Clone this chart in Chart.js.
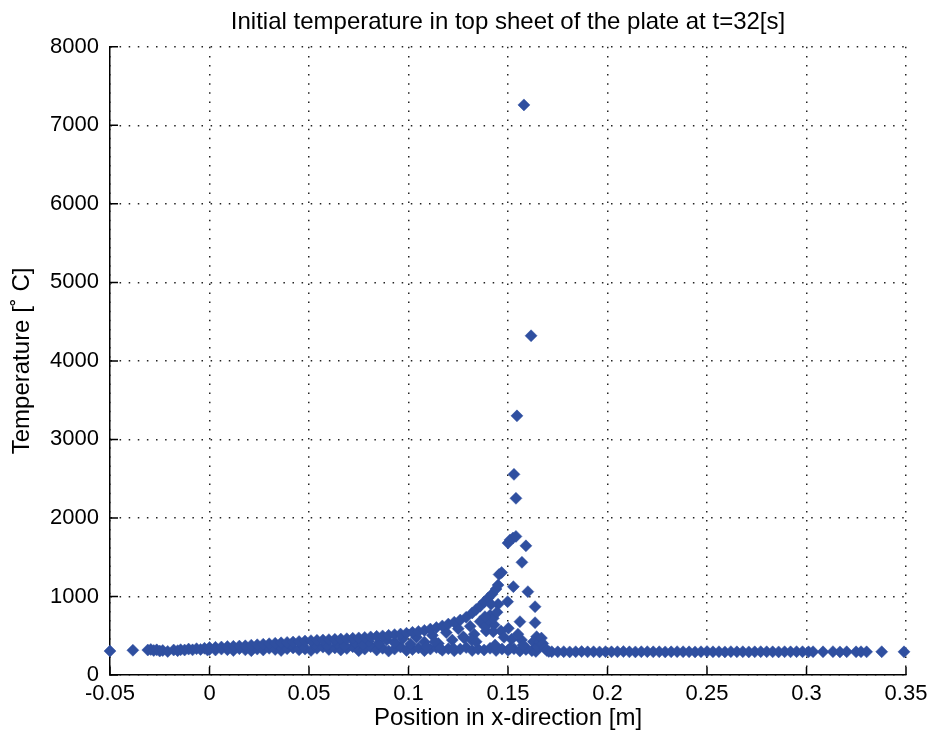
<!DOCTYPE html>
<html>
<head>
<meta charset="utf-8">
<script src="https://cdn.jsdelivr.net/npm/chart.js@4.4.1/dist/chart.umd.min.js"></script>
<style>
  body { margin: 0; background: #fff; }
  #wrap { width: 934px; height: 742px; position: relative; }
</style>
</head>
<body>
<div id="wrap"><canvas id="tempChart"></canvas></div>
<script>
// axis labels
const xTickLabels = ['-0.05', '0', '0.05', '0.1', '0.15', '0.2', '0.25', '0.3', '0.35'];
const yTickLabels = ['0', '1000', '2000', '3000', '4000', '5000', '6000', '7000', '8000'];

// sparse points left of x=0
const startX = [-0.05, -0.0385, -0.031, -0.0295, -0.028, -0.0265, -0.025, -0.0235, -0.021, -0.018, -0.016, -0.0145, -0.0125, -0.0105, -0.0085, -0.0065, -0.0045, -0.0025, -0.001];
const startY = [305, 315, 318, 325, 312, 320, 305, 312, 300, 318, 310, 322, 318, 330, 320, 335, 325, 340, 318];

// upper edge of the rising band
const upperX = [0.000, 0.003, 0.006, 0.009, 0.012, 0.015, 0.018, 0.021, 0.024, 0.027, 0.030, 0.033, 0.036, 0.039, 0.042, 0.045, 0.048, 0.051, 0.054, 0.057, 0.060, 0.063, 0.066, 0.069, 0.072, 0.075, 0.078, 0.081, 0.084, 0.087, 0.090, 0.093, 0.096, 0.099, 0.102, 0.105, 0.108, 0.111, 0.114, 0.117, 0.120, 0.123, 0.126, 0.129, 0.132, 0.134, 0.136, 0.138, 0.140, 0.142, 0.144, 0.145];
const upperY = [350, 352, 356, 362, 365, 368, 372, 380, 385, 392, 398, 404, 410, 415, 420, 426, 432, 437, 441, 446, 450, 454, 458, 462, 467, 472, 478, 485, 492, 498, 505, 514, 522, 532, 543, 555, 568, 585, 604, 625, 648, 672, 700, 735, 790, 835, 875, 930, 980, 1030, 1095, 1145];

// lower edge of the band
const lowerX = [0.000, 0.003, 0.006, 0.009, 0.012, 0.015, 0.018, 0.021, 0.024, 0.027, 0.030, 0.033, 0.036, 0.039, 0.042, 0.045, 0.048, 0.051, 0.054, 0.057, 0.060, 0.063, 0.066, 0.069, 0.072, 0.075, 0.078, 0.081, 0.084, 0.087, 0.090, 0.093, 0.096, 0.099, 0.102, 0.105, 0.108, 0.111, 0.114, 0.117, 0.120, 0.123, 0.126, 0.129, 0.132, 0.135, 0.138, 0.141, 0.144, 0.147, 0.150, 0.153, 0.156, 0.159, 0.162];
const lowerY = [325, 318, 330, 322, 312, 335, 320, 310, 330, 318, 340, 325, 312, 335, 345, 320, 330, 312, 340, 355, 325, 345, 318, 338, 360, 310, 330, 360, 318, 340, 305, 330, 355, 312, 325, 345, 310, 330, 350, 315, 335, 308, 330, 350, 312, 330, 318, 340, 312, 330, 315, 335, 305, 325, 310];

// points between the edges
const midX = [0.035, 0.041, 0.047, 0.053, 0.059, 0.064, 0.068, 0.073, 0.077, 0.080, 0.085, 0.089, 0.093, 0.097, 0.101, 0.104, 0.108, 0.112, 0.115, 0.119, 0.122, 0.125, 0.128, 0.131, 0.133, 0.136, 0.139, 0.141, 0.143, 0.145];
const midY = [372, 385, 368, 395, 380, 405, 372, 415, 390, 430, 400, 445, 410, 460, 395, 480, 420, 505, 400, 540, 445, 590, 470, 620, 520, 680, 560, 760, 640, 900];

// scattered points under the peak
const scatX = [0.1275, 0.1317, 0.1225, 0.1340, 0.1435, 0.1385, 0.1400, 0.1426, 0.1426, 0.1384, 0.1498, 0.1502, 0.1510, 0.1518, 0.1527, 0.1560, 0.1568, 0.1593, 0.1600, 0.1636, 0.1636, 0.1644, 0.1627, 0.1652, 0.1133, 0.1090, 0.1158, 0.1465, 0.1480, 0.1445, 0.1415, 0.1550, 0.1575];
const scatY = [488, 446, 340, 424, 382, 615, 700, 552, 722, 743, 934, 595, 340, 455, 1125, 679, 446, 340, 1061, 870, 666, 488, 424, 382, 424, 361, 340, 560, 480, 800, 900, 520, 380];

// the spike
const peakX = [0.1580, 0.1616, 0.1545, 0.1530, 0.1540, 0.1500, 0.1510, 0.1525, 0.1540, 0.1590, 0.1570, 0.1468, 0.1455];
const peakY = [7260, 4320, 3300, 2555, 2250, 1680, 1720, 1745, 1765, 1645, 1435, 1305, 1280];

// flat part right of the spike
const flatX = [0.1640, 0.1650, 0.1660, 0.1668, 0.1675, 0.1685, 0.1695, 0.1705, 0.172, 0.175, 0.178, 0.181, 0.184, 0.187, 0.190, 0.193, 0.196, 0.199, 0.202, 0.205, 0.208, 0.211, 0.214, 0.217, 0.220, 0.223, 0.226, 0.229, 0.232, 0.235, 0.238, 0.241, 0.244, 0.247, 0.250, 0.253, 0.256, 0.259, 0.262, 0.265, 0.268, 0.271, 0.274, 0.277, 0.280, 0.283, 0.286, 0.289, 0.292, 0.295, 0.298, 0.301, 0.3033, 0.3083, 0.3133, 0.3168, 0.3202, 0.3249, 0.3274, 0.3302, 0.3378, 0.3490];
const flatY = [300, 357, 420, 470, 400, 340, 312, 300, 296, 295, 297, 294, 296, 298, 295, 296, 294, 297, 295, 296, 298, 295, 294, 296, 297, 295, 296, 294, 295, 297, 296, 295, 294, 296, 298, 295, 296, 294, 297, 295, 296, 294, 295, 297, 296, 295, 294, 296, 295, 297, 296, 295, 296, 295, 297, 294, 296, 295, 296, 295, 296, 295];

function toPoints(xs, ys) {
  return xs.map((x, i) => ({ x: x, y: ys[i] }));
}

const allPoints = [].concat(
  toPoints(startX, startY),
  toPoints(lowerX, lowerY),
  toPoints(midX, midY),
  toPoints(upperX, upperY),
  toPoints(scatX, scatY),
  toPoints(peakX, peakY),
  toPoints(flatX, flatY)
);

// matlab style ticks pointing into the plot
const inwardTicks = {
  id: 'inwardTicks',
  afterDraw(chart) {
    const { ctx, chartArea: a, scales: { x, y } } = chart;
    ctx.save();
    ctx.strokeStyle = '#000';
    ctx.lineWidth = 1.5;
    ctx.beginPath();
    x.ticks.forEach(t => {
      const px = x.getPixelForValue(t.value);
      ctx.moveTo(px, a.bottom);
      ctx.lineTo(px, a.bottom - 8);
    });
    y.ticks.forEach(t => {
      const py = y.getPixelForValue(t.value);
      ctx.moveTo(a.left, py);
      ctx.lineTo(a.left + 8, py);
    });
    ctx.stroke();
    ctx.restore();
  }
};

const fontFamily = "'Liberation Sans', Arial, sans-serif";
const gridStyle = { color: '#222', lineWidth: 1.5, drawTicks: false };
const borderStyle = { display: true, color: '#000', width: 1.5, dash: [1.5, 7.6] };

new Chart(document.getElementById('tempChart'), {
  type: 'scatter',
  data: {
    datasets: [{
      data: allPoints,
      pointStyle: 'rectRot',
      pointRadius: 6,
      backgroundColor: '#2f4fa0',
      borderColor: '#2f4fa0',
      borderWidth: 0.5,
      clip: false
    }]
  },
  options: {
    responsive: true,
    maintainAspectRatio: false,
    animation: false,
    layout: { padding: { left: 0, right: 28, top: 0, bottom: 0 } },
    plugins: {
      legend: { display: false },
      tooltip: { enabled: false },
      title: {
        display: true,
        fullSize: false,
        text: 'Initial temperature in top sheet of the plate at t=32[s]',
        color: '#000',
        font: { family: fontFamily, size: 24, weight: 'normal' },
        padding: { top: 8, bottom: 10 }
      }
    },
    scales: {
      x: {
        type: 'linear',
        min: -0.05,
        max: 0.35,
        afterFit: s => { s.height = 67; },
        grid: gridStyle,
        border: borderStyle,
        ticks: {
          stepSize: 0.05,
          color: '#000',
          padding: 6,
          font: { family: fontFamily, size: 22 },
          callback: (v, i) => xTickLabels[i]
        },
        title: {
          display: true,
          text: 'Position in x-direction [m]',
          color: '#000',
          font: { family: fontFamily, size: 24 },
          padding: { top: 0, bottom: 9 }
        }
      },
      y: {
        type: 'linear',
        min: 0,
        max: 8000,
        afterFit: s => { s.width = 110; },
        grid: gridStyle,
        border: borderStyle,
        ticks: {
          stepSize: 1000,
          color: '#000',
          padding: 11,
          font: { family: fontFamily, size: 22 },
          callback: (v, i) => yTickLabels[i]
        },
        title: {
          display: true,
          text: 'Temperature [˚ C]',
          color: '#000',
          font: { family: fontFamily, size: 24 },
          padding: { top: 8, bottom: 0 }
        }
      }
    }
  },
  plugins: [inwardTicks]
});
</script>
</body>
</html>
